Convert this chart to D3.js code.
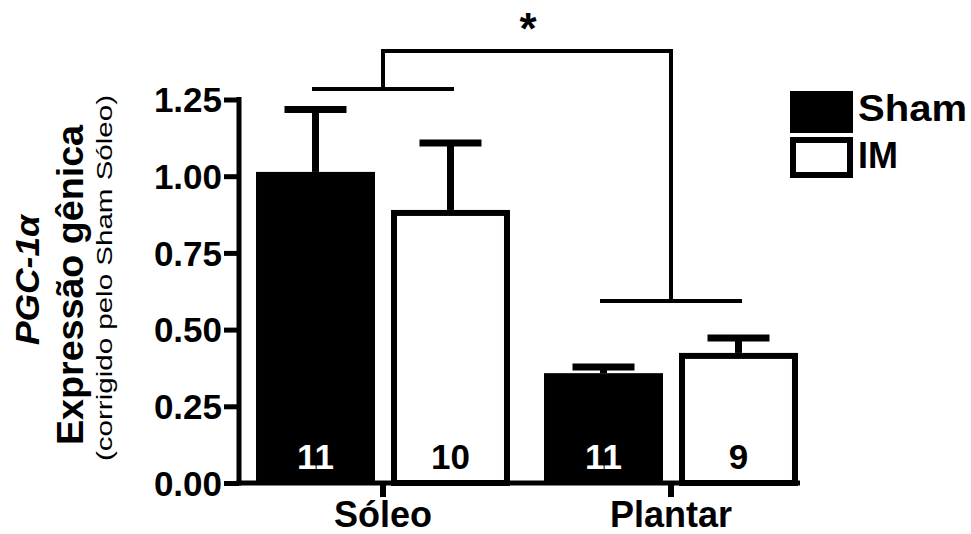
<!DOCTYPE html>
<html><head><meta charset="utf-8">
<script src="https://cdn.jsdelivr.net/npm/d3@7/dist/d3.min.js"></script>
<style>body{margin:0;background:#fff}svg{display:block}text{font-family:"Liberation Sans",Arial,sans-serif}</style>
</head><body>
<svg id="c" width="971" height="534"></svg>
<script>
const categories = ["Sóleo", "Plantar"];
const series = ["Sham", "IM"];
const means = { "Sham": [1.014, 0.358], "IM": [0.89, 0.424] };
const sems  = { "Sham": [0.203, 0.02], "IM": [0.218, 0.049] };
const nLabels = { "Sham": ["11", "11"], "IM": ["10", "9"] };
const yTicks = [0, 0.25, 0.5, 0.75, 1.0, 1.25];
const yTickLabels = ["0.00", "0.25", "0.50", "0.75", "1.00", "1.25"];
const bracketLow = [1.284, 0.593];   // per-category bracket levels
const bracketTop = 1.408;
const sigLabel = "*";

const svg = d3.select("#c");
const y = d3.scaleLinear().domain([0, 1.25]).range([483, 99.5]);
const x0 = d3.scaleBand().domain(categories).range([239, 815]).paddingInner(0).paddingOuter(0);
const x1 = d3.scaleBand().domain(series).range([0, x0.bandwidth()]).paddingInner(0.1185).paddingOuter(0.126);
const SW = 6;

// bars
categories.forEach((c, ci) => {
  series.forEach(s => {
    const xl = x0(c) + x1(s), w = x1.bandwidth(), v = means[s][ci];
    const cx = xl + w / 2;
    const ye = y(v + sems[s][ci]);
    svg.append("line").attr("x1", cx).attr("x2", cx).attr("y1", y(v)).attr("y2", ye)
      .attr("stroke", "#000").attr("stroke-width", 7);
    svg.append("line").attr("x1", cx - 31).attr("x2", cx + 31).attr("y1", ye).attr("y2", ye)
      .attr("stroke", "#000").attr("stroke-width", 7);
    if (s === "Sham") {
      svg.append("rect").attr("x", xl).attr("y", y(v)).attr("width", w).attr("height", y(0) - y(v)).attr("fill", "#000");
    } else {
      svg.append("rect").attr("x", xl + SW / 2).attr("y", y(v) + SW / 2).attr("width", w - SW).attr("height", y(0) - y(v) - SW / 2)
        .attr("fill", "#fff").attr("stroke", "#000").attr("stroke-width", SW);
    }
    svg.append("text").attr("x", cx).attr("y", 469).attr("text-anchor", "middle")
      .attr("font-size", 35).attr("font-weight", "bold").attr("fill", s === "Sham" ? "#fff" : "#000")
      .text(nLabels[s][ci]);
  });
});

// axes
const yAxis = svg.append("g").attr("transform", "translate(239,0)")
  .call(d3.axisLeft(y).tickValues(yTicks).tickFormat((d, i) => yTickLabels[i]).tickSize(15).tickSizeOuter(0));
yAxis.select(".domain").attr("stroke-width", 5).attr("stroke", "#000");
yAxis.selectAll(".tick line").attr("stroke-width", 5);
yAxis.selectAll(".tick text").attr("font-size", 35).attr("font-weight", "bold").attr("fill", "#000")
  .attr("font-family", "Liberation Sans, Arial").attr("x", -17).attr("dy", "0.35em");
yAxis.select(".domain").attr("d", `M0,${y(0)+2.5}V${y(1.25)-2.5}`);

const xAxis = svg.append("g").attr("transform", `translate(0,${y(0)})`)
  .call(d3.axisBottom(x0).tickSize(14).tickSizeOuter(0));
xAxis.select(".domain").attr("d", "M236.5,0H800").attr("stroke-width", 5).attr("stroke", "#000");
xAxis.selectAll(".tick line").attr("stroke-width", 6);
xAxis.selectAll(".tick text").attr("font-size", 36).attr("font-weight", "bold").attr("fill", "#000")
  .attr("font-family", "Liberation Sans, Arial").attr("y", 18).attr("dy", "0.71em");

// significance brackets
const bl = 4;
categories.forEach((c, ci) => {
  const cx = x0(c) + x0.bandwidth() / 2;
  svg.append("line").attr("x1", cx - 71).attr("x2", cx + 71).attr("y1", y(bracketLow[ci])).attr("y2", y(bracketLow[ci]))
    .attr("stroke", "#000").attr("stroke-width", bl);
  svg.append("line").attr("x1", cx).attr("x2", cx).attr("y1", y(bracketLow[ci])).attr("y2", y(bracketTop) - bl / 2)
    .attr("stroke", "#000").attr("stroke-width", bl);
});
const cA = x0(categories[0]) + x0.bandwidth() / 2, cB = x0(categories[1]) + x0.bandwidth() / 2;
svg.append("line").attr("x1", cA).attr("x2", cB).attr("y1", y(bracketTop)).attr("y2", y(bracketTop))
  .attr("stroke", "#000").attr("stroke-width", bl);
svg.append("text").attr("x", (cA + cB) / 2 + 1).attr("y", 44).attr("text-anchor", "middle")
  .attr("font-size", 44).attr("font-weight", "bold").text(sigLabel);

// legend
const lg = svg.append("g");
lg.append("rect").attr("x", 790).attr("y", 91).attr("width", 63).attr("height", 42).attr("fill", "#000");
lg.append("rect").attr("x", 793).attr("y", 140).attr("width", 57).attr("height", 35).attr("fill", "#fff").attr("stroke", "#000").attr("stroke-width", 6);
lg.append("text").attr("x", 858).attr("y", 121).attr("font-size", 36).attr("font-weight", "bold").attr("textLength", 109).attr("lengthAdjust", "spacingAndGlyphs").text(series[0]);
lg.append("text").attr("x", 858).attr("y", 168).attr("font-size", 36).attr("font-weight", "bold").text(series[1]);

// y title
const yt = svg.append("g");
yt.append("text").attr("transform", "translate(39,280) rotate(-90)").attr("text-anchor", "middle")
  .attr("font-size", 34).attr("font-weight", "bold").attr("font-style", "italic")
  .attr("textLength", 130).attr("lengthAdjust", "spacingAndGlyphs").text("PGC-1α");
yt.append("text").attr("transform", "translate(83,285) rotate(-90)").attr("text-anchor", "middle")
  .attr("font-size", 36).attr("font-weight", "bold").attr("textLength", 320).attr("lengthAdjust", "spacingAndGlyphs").text("Expressão gênica");
yt.append("text").attr("transform", "translate(112,278) rotate(-90)").attr("text-anchor", "middle")
  .attr("font-size", 22).attr("textLength", 366).attr("lengthAdjust", "spacingAndGlyphs").text("(corrigido pelo Sham Sóleo)");
</script>
</body></html>
